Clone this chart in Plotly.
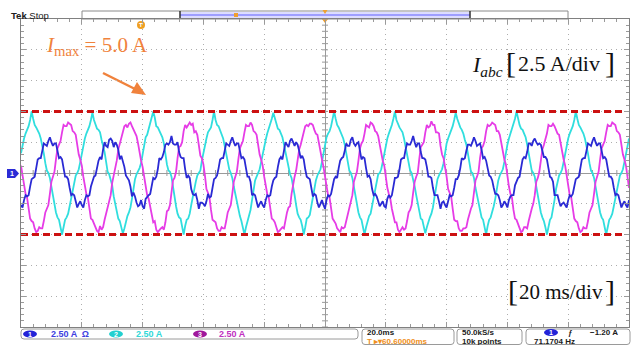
import plotly.graph_objects as go

# ---------------- data ----------------
# Sample interval 0.5 ms, window -100 ms .. +100 ms (401 samples per channel)
SAMPLE_MS = 0.5
N_SAMPLES = 401
t_ms = [-100 + i * SAMPLE_MS for i in range(N_SAMPLES)]

# CH2 (cyan), A
ch2_cyan = [
    1.6, 2.3, 2.8, 3.2, 3.5, 3.8, 4.3,
    5.0, 4.4, 3.9, 3.7, 3.5, 3.2, 2.8, 2.3, 1.6, 0.8, 0.2, 0.0, -0.4, -1.1, -1.8, -2.6, -3.2, -3.6, -3.8, -4.4,
    -5.0, -4.4, -3.8, -3.6, -3.3, -2.7, -2.0, -1.3, -0.6, -0.2, 0.0, 0.3, 0.9, 1.6, 2.3, 2.8, 3.2, 3.5, 3.8, 4.3,
    4.9, 4.3, 4.0, 3.6, 3.5, 3.3, 2.7, 2.2, 1.7, 0.9, 0.1, -0.1, -0.5, -1.0, -1.9, -2.5, -3.1, -3.7, -3.9, -4.3,
    -4.9, -4.5, -3.9, -3.5, -3.2, -2.8, -2.1, -1.2, -0.5, -0.1, 0.1, 0.4, 0.8, 1.5, 2.4, 2.9, 3.1, 3.6, 3.9, 4.4,
    5.0, 4.5, 3.8, 3.7, 3.4, 3.2, 2.9, 2.4, 1.5, 0.7, 0.2, 0.1, -0.3, -1.2, -1.8, -2.7, -3.3, -3.6, -3.7, -4.5,
    -5.0, -4.3, -3.8, -3.7, -3.3, -2.6, -1.9, -1.4, -0.7, -0.2, 0.0, 0.2, 1.0, 1.7, 2.2, 2.8, 3.3, 3.5, 3.7, 4.3,
    5.0, 4.3, 3.9, 3.8, 3.5, 3.1, 2.8, 2.2, 1.6, 0.8, 0.3, 0.0, -0.4, -1.1, -1.7, -2.6, -3.2, -3.5, -3.9, -4.4,
    -5.0, -4.4, -3.9, -3.6, -3.0, -2.2, -1.3, -0.6, -0.3, 0.0, 0.3, 0.9, 1.6, 2.3, 2.7, 3.2, 3.6, 3.8, 4.4,
    4.9, 4.4, 3.9, 3.6, 3.5, 3.2, 2.9, 2.3, 1.7, 0.8, 0.2, -0.1, -0.4, -1.0, -1.8, -2.6, -3.3, -3.6, -3.8, -4.3,
    -5.0, -4.4, -3.7, -3.6, -3.4, -2.7, -2.0, -1.2, -0.6, -0.2, 0.1, 0.3, 0.9, 1.6, 2.3, 2.9, 3.2, 3.4, 3.8, 4.3,
    5.0, 4.4, 3.9, 3.7, 3.4, 3.2, 2.8, 2.3, 1.6, 0.7, 0.2, 0.0, -0.4, -1.1, -1.9, -2.6, -3.2, -3.6, -3.8, -4.4,
    -5.0, -4.4, -3.8, -3.5, -3.3, -2.7, -2.0, -1.3, -0.6, -0.1, 0.0, 0.3, 0.9, 1.6, 2.3, 2.8, 3.2, 3.5, 3.9, 4.4,
    5.0, 4.3, 3.9, 3.7, 3.5, 3.3, 2.8, 2.2, 1.6, 0.9, 0.2, 0.0, -0.5, -1.1, -1.8, -2.5, -3.2, -3.7, -3.8, -4.4,
    -4.9, -4.4, -3.9, -3.6, -3.3, -2.8, -2.0, -1.3, -0.5, -0.2, 0.0, 0.3, 0.8, 1.6, 2.4, 2.8, 3.1, 3.5, 3.8, 4.3,
    4.9, 4.4, 4.0, 3.7, 3.5, 3.2, 2.7, 2.3, 1.6, 0.8, 0.1, 0.0, -0.4, -1.2, -1.8, -2.6, -3.1, -3.6, -3.8, -4.4,
    -5.0, -4.3, -3.8, -3.6, -3.2, -2.7, -2.1, -1.3, -0.6, -0.2, 0.1, 0.3, 0.9, 1.7, 2.3, 2.8, 3.2, 3.6, 3.8, 4.4,
    5.0, 4.4, 3.9, 3.6, 3.5, 3.2, 2.9, 2.3, 1.5, 0.8, 0.2, 0.0, -0.3, -1.1, -1.8, -2.6, -3.2, -3.6, -3.9, -4.4,
    -5.0, -4.4, -3.8, -3.6, -3.0, -2.2, -1.3, -0.6, -0.2, 0.0, 0.3, 0.9, 1.6, 2.3, 2.8, 3.2, 3.5, 3.8, 4.3,
    5.0, 4.4, 3.9, 3.7, 3.5, 3.2, 2.8, 2.3, 1.6, 0.8, 0.2, 0.0, -0.4, -1.1, -1.8, -2.6, -3.2, -3.6, -3.8, -4.4,
    -5.0, -4.4, -3.8, -3.6, -3.3, -2.7, -2.0, -1.3, -0.6, -0.2, 0.0, 0.3, 0.9, 1.6, 2.3, 2.8,
]

# CH1 (blue), A
ch1_blue = [
    -2.6, -2.8, -2.2, -1.8, -1.9, -1.8, -1.1,
    -0.5, -0.4, -0.3, 0.4, 1.1, 1.2, 1.2, 1.8, 2.4, 2.3, 2.2, 2.6, 2.9, 2.5, 2.2, 2.4, 2.4, 1.8, 1.2, 1.3,
    1.1, 0.4, -0.3, -0.3, -0.5, -1.2, -1.8, -1.7, -1.8, -2.3, -2.8, -2.5, -2.3, -2.6, -2.8, -2.2, -1.8, -1.9, -1.8, -1.1,
    -0.6, -0.3, -0.2, 0.5, 1.0, 1.3, 1.1, 1.9, 2.5, 2.2, 2.1, 2.7, 2.8, 2.6, 2.1, 2.5, 2.3, 1.9, 1.1, 1.4,
    1.0, 0.5, -0.2, -0.4, -0.6, -1.1, -1.9, -1.6, -1.9, -2.4, -2.7, -2.6, -2.2, -2.7, -2.9, -2.1, -1.9, -1.8, -1.7, -1.0,
    -0.4, -0.5, -0.3, 0.3, 1.2, 1.1, 1.3, 1.7, 2.3, 2.4, 2.3, 2.5, 3.0, 2.4, 2.3, 2.3, 2.5, 1.7, 1.3, 1.2,
    1.2, 0.3, -0.4, -0.2, -0.4, -1.3, -1.7, -1.8, -1.7, -2.2, -2.9, -2.4, -2.4, -2.5, -2.7, -2.3, -1.7, -2.0, -1.9, -1.2,
    -0.5, -0.4, -0.2, 0.4, 1.1, 1.2, 1.2, 1.8, 2.4, 2.3, 2.2, 2.6, 2.9, 2.5, 2.2, 2.4, 2.4, 1.8, 1.2, 1.3,
    1.1, 0.4, -0.3, -0.3, -0.7, -1.8, -1.7, -1.8, -2.3, -2.8, -2.5, -2.3, -2.6, -2.8, -2.2, -1.8, -1.9, -1.8, -1.1,
    -0.6, -0.4, -0.3, 0.5, 1.1, 1.3, 1.1, 1.8, 2.5, 2.3, 2.1, 2.6, 2.8, 2.5, 2.2, 2.5, 2.3, 1.8, 1.2, 1.4,
    1.1, 0.3, -0.3, -0.4, -0.5, -1.2, -1.9, -1.7, -1.8, -2.4, -2.8, -2.5, -2.2, -2.6, -2.9, -2.2, -1.8, -1.9, -1.7, -1.1,
    -0.5, -0.3, -0.4, 0.4, 1.0, 1.2, 1.3, 1.8, 2.4, 2.2, 2.2, 2.7, 2.9, 2.4, 2.2, 2.4, 2.5, 1.8, 1.1, 1.3,
    1.2, 0.4, -0.3, -0.2, -0.5, -1.3, -1.8, -1.7, -1.9, -2.3, -2.7, -2.5, -2.3, -2.7, -2.8, -2.1, -1.8, -2.0, -1.8, -1.1,
    -0.4, -0.4, -0.3, 0.3, 1.1, 1.2, 1.2, 1.9, 2.4, 2.3, 2.3, 2.6, 3.0, 2.5, 2.1, 2.4, 2.4, 1.7, 1.2, 1.2,
    1.1, 0.5, -0.3, -0.3, -0.4, -1.2, -1.8, -1.8, -1.8, -2.3, -2.9, -2.4, -2.3, -2.6, -2.8, -2.3, -1.8, -1.9, -1.8, -1.2,
    -0.5, -0.5, -0.2, 0.4, 1.2, 1.1, 1.2, 1.8, 2.3, 2.3, 2.2, 2.5, 2.9, 2.6, 2.2, 2.3, 2.4, 1.9, 1.2, 1.3,
    1.0, 0.4, -0.2, -0.3, -0.6, -1.2, -1.7, -1.7, -1.8, -2.2, -2.8, -2.6, -2.3, -2.5, -2.8, -2.2, -1.9, -1.8, -1.8, -1.0,
    -0.6, -0.4, -0.3, 0.4, 1.1, 1.3, 1.2, 1.7, 2.4, 2.4, 2.2, 2.6, 2.8, 2.5, 2.3, 2.4, 2.3, 1.8, 1.3, 1.3,
    1.1, 0.4, -0.3, -0.4, -0.7, -1.8, -1.8, -1.8, -2.3, -2.7, -2.5, -2.4, -2.6, -2.8, -2.2, -1.8, -1.9, -1.7, -1.1,
    -0.5, -0.4, -0.3, 0.4, 1.1, 1.2, 1.2, 1.8, 2.4, 2.3, 2.2, 2.6, 2.9, 2.5, 2.2, 2.4, 2.4, 1.8, 1.2, 1.3,
    1.1, 0.4, -0.3, -0.3, -0.5, -1.2, -1.8, -1.7, -1.8, -2.3, -2.8, -2.5, -2.3, -2.6, -2.8, -2.2,
]

# CH3 (magenta), A
ch3_magenta = [
    0.6, -0.3, -1.2, -1.7, -2.0, -2.9, -3.7,
    -3.9, -4.0, -4.5, -4.8, -4.7, -4.4, -4.5, -4.5, -3.9, -3.2, -2.9, -2.6, -1.7, -0.7, -0.3, 0.1, 1.1, 2.0, 2.3, 2.6,
    3.3, 3.9, 3.8, 3.8, 4.1, 4.0, 3.9, 3.4, 3.3, 3.1, 2.3, 1.5, 1.1, 0.6, -0.3, -1.2, -1.7, -2.0, -2.9, -3.7,
    -3.8, -4.1, -4.4, -4.7, -4.8, -4.3, -4.6, -4.4, -3.8, -3.3, -2.8, -2.5, -1.8, -0.8, -0.2, 0.2, 1.0, 1.9, 2.4, 2.7,
    3.2, 3.8, 3.9, 3.7, 4.0, 4.1, 3.8, 3.5, 3.2, 3.0, 2.4, 1.6, 1.0, 0.5, -0.4, -1.1, -1.8, -2.1, -2.8, -3.6,
    -4.0, -3.9, -4.6, -4.8, -4.6, -4.5, -4.4, -4.6, -4.0, -3.1, -3.0, -2.6, -1.6, -0.6, -0.4, 0.1, 1.2, 2.1, 2.2, 2.5,
    3.4, 3.9, 3.7, 3.9, 4.1, 3.9, 4.0, 3.3, 3.4, 3.1, 2.2, 1.4, 1.2, 0.7, -0.2, -1.3, -1.6, -2.0, -3.0, -3.8,
    -3.9, -4.0, -4.5, -4.7, -4.7, -4.4, -4.5, -4.5, -3.9, -3.2, -2.9, -2.6, -1.7, -0.7, -0.3, 0.1, 1.1, 2.0, 2.3, 2.6,
    3.3, 3.9, 3.8, 3.8, 4.1, 3.9, 3.4, 3.3, 3.1, 2.3, 1.5, 1.1, 0.6, -0.3, -1.2, -1.7, -2.0, -2.9, -3.7,
    -3.8, -4.0, -4.4, -4.8, -4.7, -4.5, -4.4, -4.5, -3.8, -3.2, -2.8, -2.7, -1.7, -0.8, -0.3, 0.2, 1.1, 1.9, 2.3, 2.7,
    3.3, 3.8, 3.9, 3.8, 4.0, 4.0, 3.9, 3.5, 3.2, 3.1, 2.3, 1.6, 1.1, 0.5, -0.3, -1.2, -1.8, -2.0, -2.8, -3.7,
    -3.9, -4.1, -4.5, -4.7, -4.8, -4.4, -4.5, -4.4, -3.9, -3.3, -2.9, -2.5, -1.8, -0.7, -0.2, 0.1, 1.0, 2.0, 2.4, 2.6,
    3.2, 3.9, 3.8, 3.7, 4.1, 4.0, 3.8, 3.4, 3.3, 3.0, 2.3, 1.5, 1.0, 0.6, -0.4, -1.2, -1.7, -2.1, -2.9, -3.6,
    -4.0, -4.0, -4.6, -4.8, -4.6, -4.4, -4.6, -4.5, -3.9, -3.2, -3.0, -2.6, -1.6, -0.7, -0.3, 0.0, 1.1, 2.1, 2.3, 2.5,
    3.3, 3.9, 3.7, 3.8, 4.2, 3.9, 3.9, 3.3, 3.3, 3.2, 2.2, 1.5, 1.2, 0.6, -0.3, -1.3, -1.7, -1.9, -2.9, -3.8,
    -3.9, -3.9, -4.5, -4.7, -4.7, -4.5, -4.5, -4.4, -3.8, -3.2, -2.9, -2.6, -1.7, -0.6, -0.3, 0.1, 1.2, 2.0, 2.2, 2.6,
    3.4, 3.9, 3.8, 3.9, 4.1, 4.0, 3.9, 3.4, 3.4, 3.1, 2.4, 1.5, 1.1, 0.7, -0.3, -1.1, -1.7, -2.0, -3.0, -3.7,
    -3.8, -4.1, -4.5, -4.8, -4.7, -4.4, -4.4, -4.5, -3.9, -3.3, -2.9, -2.5, -1.8, -0.7, -0.4, 0.1, 1.1, 1.9, 2.3, 2.7,
    3.2, 3.9, 3.8, 3.8, 4.0, 3.8, 3.4, 3.2, 3.1, 2.3, 1.6, 1.1, 0.6, -0.2, -1.2, -1.8, -2.0, -2.9, -3.7,
    -3.9, -4.0, -4.5, -4.8, -4.7, -4.4, -4.5, -4.5, -3.9, -3.2, -2.9, -2.6, -1.7, -0.7, -0.3, 0.1, 1.1, 2.0, 2.3, 2.6,
    3.3, 3.9, 3.8, 3.8, 4.1, 4.0, 3.9, 3.4, 3.3, 3.1, 2.3, 1.5, 1.1, 0.6, -0.3, -1.2,
]

assert len(ch1_blue) == len(ch2_cyan) == len(ch3_magenta) == N_SAMPLES

I_MAX = 5.0          # A, current limit drawn as dashed lines
A_PER_DIV = 2.5      # vertical scale
MS_PER_DIV = 20      # horizontal scale
N_XDIV, N_YDIV = 10, 10

# ---------------- geometry helpers ----------------
W, H = 637, 345
ML, MR, MT, MB = 21, 8, 19, 18
PW, PH = W - ML - MR, H - MT - MB
X_HALF = N_XDIV * MS_PER_DIV / 2
Y_HALF = N_YDIV * A_PER_DIV / 2


def px(x):
    return (x - ML) / PW


def py(y):
    return (H - MB - y) / PH


fig = go.Figure()

# centre graticule ticks (5 per division on both axes)
cx, cy = [], []
tx = 3 * (2 * X_HALF) / PW
ty = 3 * (2 * Y_HALF) / PH
for i in range(N_XDIV * 5 + 1):
    k = -X_HALF + i * MS_PER_DIV / 5
    cx += [k, k, None]
    cy += [-ty, ty, None]
for i in range(N_YDIV * 5 + 1):
    k = -Y_HALF + i * A_PER_DIV / 5
    cx += [-tx, tx, None]
    cy += [k, k, None]
fig.add_trace(go.Scatter(x=cx, y=cy, mode="lines", line=dict(color="#9a9a9a", width=1),
                         hoverinfo="skip", showlegend=False))

# waveforms
fig.add_trace(go.Scatter(x=t_ms, y=ch2_cyan, mode="lines", line=dict(color="#30dede", width=1.8),
                         showlegend=False))
fig.add_trace(go.Scatter(x=t_ms, y=ch3_magenta, mode="lines", line=dict(color="#e63ce6", width=1.8),
                         showlegend=False))
fig.add_trace(go.Scatter(x=t_ms, y=ch1_blue, mode="lines", line=dict(color="#2a2ad4", width=1.8),
                         showlegend=False))

# current limit lines
x_end = -X_HALF + (625 - ML) / PW * 2 * X_HALF
for lvl in (I_MAX, -I_MAX):
    fig.add_trace(go.Scatter(x=[-X_HALF, x_end], y=[lvl, lvl], mode="lines",
                             line=dict(color="#cc1111", width=3, dash="7px,4px"),
                             hoverinfo="skip", showlegend=False))

axis_common = dict(showline=True, linecolor="#808080", linewidth=1, mirror="allticks",
                   ticks="inside", ticklen=5, tickcolor="#9a9a9a", showticklabels=False,
                   showgrid=True, gridcolor="#adadad", gridwidth=1, griddash="1px,4px",
                   zeroline=True, zerolinecolor="#9a9a9a", zerolinewidth=1, fixedrange=True)

fig.update_xaxes(range=[-X_HALF, X_HALF], dtick=MS_PER_DIV, tick0=0,
                 minor=dict(dtick=MS_PER_DIV / 5, ticks="inside", ticklen=3, tickcolor="#9a9a9a", showgrid=False),
                 **axis_common)
fig.update_yaxes(range=[-Y_HALF, Y_HALF], dtick=A_PER_DIV, tick0=0,
                 minor=dict(dtick=A_PER_DIV / 5, ticks="inside", ticklen=3, tickcolor="#9a9a9a", showgrid=False),
                 **axis_common)

shapes = []
ann = []


def shp(**kw):
    kw.setdefault("xref", "paper")
    kw.setdefault("yref", "paper")
    kw.setdefault("layer", "below")
    shapes.append(kw)


def txt(x, y, text, size, color, family="Liberation Sans", xanchor="center"):
    ann.append(dict(x=px(x), y=py(y), xref="paper", yref="paper", xanchor=xanchor, yanchor="middle",
                    text=text, showarrow=False, font=dict(family=family, size=size, color=color)))


# record-length bar at the top
shp(type="rect", x0=px(82), x1=px(568), y0=py(19), y1=py(11), line=dict(color="#8a8a8a", width=1),
    fillcolor="white")
shp(type="rect", x0=px(180), x1=px(470), y0=py(18), y1=py(12), line=dict(width=0), fillcolor="#dcdcff")
shp(type="line", x0=px(180), x1=px(470), y0=py(15), y1=py(15), line=dict(color="#8a8aff", width=1.5))
for xm in (180, 470):
    shp(type="line", x0=px(xm), x1=px(xm), y0=py(19), y1=py(11), line=dict(color="#303030", width=1.5))
shp(type="rect", x0=px(234), x1=px(238), y0=py(17), y1=py(13), line=dict(width=0), fillcolor="#f0a030")


def tri_down(x, y, w, h):
    return f"M {px(x - w / 2)} {py(y)} L {px(x + w / 2)} {py(y)} L {px(x)} {py(y + h)} Z"


shp(type="path", path=tri_down(325, 10, 5, 4), line=dict(width=0), fillcolor="#f0a030")
shp(type="path", path=tri_down(325, 19, 6, 4), line=dict(width=0), fillcolor="#f0a030")

# trigger position marker
shp(type="circle", x0=px(137), x1=px(145), y0=py(29), y1=py(21), line=dict(width=0), fillcolor="#f0a020")
txt(141, 25, "<b>T</b>", 6, "white")

# channel 1 ground marker
shp(type="path", path=f"M {px(7)} {py(169)} L {px(15)} {py(169)} L {px(19)} {py(173.5)} "
                      f"L {px(15)} {py(178)} L {px(7)} {py(178)} Z",
    line=dict(width=0), fillcolor="#2b2bd6")
txt(12, 173.5, "<b>1</b>", 7, "white")

txt(9, 15, "<b>Tek</b> Stop", 9.5, "#202020", xanchor="left")

# text labels
serif = "Liberation Serif"
orange = "#f0823c"
txt(44, 46, "<i>I</i><sub>max</sub> = 5.0 A", 21, orange, family=serif, xanchor="left")
# arrow pointing at the limit line
shp(type="line", x0=px(103), y0=py(73), x1=px(137), y1=py(90), line=dict(color=orange, width=2.5))
shp(type="path", path=f"M {px(146)} {py(95)} L {px(131)} {py(93)} L {px(137)} {py(82)} Z",
    line=dict(width=0), fillcolor=orange)

# vertical scale label
txt(470, 66, "<i>I</i><sub><i>abc</i></sub>", 22, "#111", family=serif, xanchor="left")
txt(511, 62, "[", 30, "#111", family=serif)
txt(559, 64, "2.5 A/div", 22, "#111", family=serif)
txt(610, 62, "]", 30, "#111", family=serif)
# horizontal scale label
txt(513, 290, "[", 30, "#111", family=serif)
txt(561, 292, "20 ms/div", 21, "#111", family=serif)
txt(610, 290, "]", 30, "#111", family=serif)


# status bar
def rrect(x0, y0, x1, y1, r=3):
    return (f"M {px(x0 + r)} {py(y0)} L {px(x1 - r)} {py(y0)} Q {px(x1)} {py(y0)} {px(x1)} {py(y0 + r)} "
            f"L {px(x1)} {py(y1 - r)} Q {px(x1)} {py(y1)} {px(x1 - r)} {py(y1)} "
            f"L {px(x0 + r)} {py(y1)} Q {px(x0)} {py(y1)} {px(x0)} {py(y1 - r)} "
            f"L {px(x0)} {py(y0 + r)} Q {px(x0)} {py(y0)} {px(x0 + r)} {py(y0)} Z")


for bx in ((21, 329, 358, 339), (362, 329, 454, 344.5), (457, 329, 522, 344.5), (526, 329, 630, 344.5)):
    shp(type="path", path=rrect(*bx), line=dict(color="#9a9a9a", width=1), fillcolor="white")


def badge(xc, yc, text, color):
    shp(type="circle", x0=px(xc - 7), x1=px(xc + 7), y0=py(yc + 3.5), y1=py(yc - 3.5),
        line=dict(width=0), fillcolor=color)
    txt(xc, yc, f"<b>{text}</b>", 7, "white")


badge(30, 334, "1", "#2323d8")
txt(49, 334, f"<b>{A_PER_DIV:.2f} A  Ω</b>", 9, "#4040e0", xanchor="left")
badge(116, 334, "2", "#22d0d0")
txt(134, 334, f"<b>{A_PER_DIV:.2f} A</b>", 9, "#30d8d8", xanchor="left")
badge(200, 334, "3", "#a0189c")
txt(217, 334, f"<b>{A_PER_DIV:.2f} A</b>", 9, "#c030c0", xanchor="left")

txt(365, 332, f"<b>{MS_PER_DIV:.1f}ms</b>", 8, "#202020", xanchor="left")
txt(365, 341, "<b>T ▸▾60.60000ms</b>", 8, "#f09020", xanchor="left")
txt(460, 332, "<b>50.0kS/s</b>", 8, "#202020", xanchor="left")
txt(460, 341, "<b>10k points</b>", 8, "#202020", xanchor="left")
badge(551, 332.5, "1", "#2323d8")
txt(566, 332, "<b>ƒ</b>", 8, "#202020", xanchor="left")
txt(588, 332, "<b>−1.20 A</b>", 8, "#202020", xanchor="left")
txt(532, 341, "<b>71.1704 Hz</b>", 8, "#202020", xanchor="left")

fig.update_layout(width=W, height=H, margin=dict(l=ML, r=MR, t=MT, b=MB, pad=0),
                  paper_bgcolor="white", plot_bgcolor="rgba(0,0,0,0)", showlegend=False,
                  shapes=shapes, annotations=ann)

fig.write_html("out.html")
